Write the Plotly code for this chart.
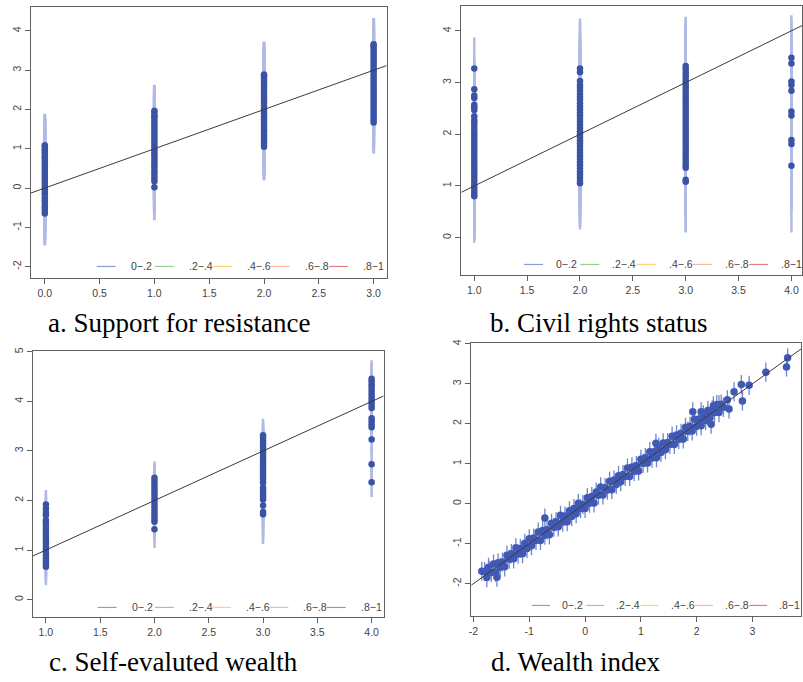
import plotly.graph_objects as go

# ---------------- data ----------------
# Panel a: Support for resistance
a_cats = [0, 1, 2, 3]
a_vals = [
    [-0.65, -0.58, -0.51, -0.45, -0.37, -0.31, -0.24, -0.16, -0.10, -0.03, 0.03, 0.10, 0.16, 0.23,
     0.29, 0.36, 0.42, 0.49, 0.55, 0.62, 0.68, 0.75, 0.81, 0.88, 0.93, 0.99, 1.05, 1.09],
    [0.02, 0.17, 0.24, 0.31, 0.38, 0.44, 0.52, 0.58, 0.65, 0.72, 0.79, 0.86, 0.92, 0.99, 1.06, 1.13,
     1.20, 1.27, 1.34, 1.41, 1.48, 1.55, 1.62, 1.69, 1.76, 1.82, 1.85, 1.93, 1.97],
    [1.05, 1.12, 1.19, 1.26, 1.33, 1.40, 1.47, 1.54, 1.61, 1.68, 1.75, 1.82, 1.89, 1.96, 2.03, 2.10,
     2.17, 2.24, 2.31, 2.38, 2.45, 2.52, 2.59, 2.66, 2.73, 2.80, 2.86, 2.89],
    [1.67, 1.74, 1.81, 1.88, 1.95, 2.02, 2.09, 2.16, 2.23, 2.30, 2.37, 2.44, 2.51, 2.58, 2.65, 2.72,
     2.79, 2.86, 2.93, 3.00, 3.07, 3.14, 3.21, 3.28, 3.35, 3.42, 3.49, 3.56, 3.62, 3.66],
]
a_err_up = [0.80, 0.66, 0.84, 0.67]
a_err_dn = [0.81, 0.84, 0.86, 0.79]

# Panel b: Civil rights status
b_cats = [1, 2, 3, 4]
b_vals = [
    [0.80, 0.85, 0.90, 0.96, 1.02, 1.08, 1.14, 1.20, 1.26, 1.32, 1.38, 1.44, 1.50, 1.56, 1.62, 1.68,
     1.74, 1.80, 1.86, 1.92, 1.98, 2.04, 2.10, 2.16, 2.22, 2.27, 2.35, 2.47, 2.52, 2.57, 2.70, 2.75,
     2.87, 3.27],
    [1.05, 1.10, 1.16, 1.22, 1.28, 1.34, 1.40, 1.46, 1.52, 1.58, 1.64, 1.70, 1.76, 1.82, 1.88, 1.94,
     2.00, 2.06, 2.12, 2.18, 2.24, 2.30, 2.36, 2.42, 2.48, 2.54, 2.60, 2.66, 2.72, 2.78, 2.84, 2.90,
     2.95, 3.03, 3.20, 3.27],
    [1.08, 1.12, 1.35, 1.40, 1.46, 1.52, 1.58, 1.64, 1.70, 1.76, 1.82, 1.88, 1.94, 2.00, 2.06, 2.12,
     2.18, 2.24, 2.30, 2.36, 2.42, 2.48, 2.54, 2.60, 2.66, 2.72, 2.78, 2.84, 2.90, 2.96, 3.02, 3.08,
     3.14, 3.20, 3.26, 3.32],
    [1.39, 1.81, 1.89, 2.36, 2.44, 2.84, 2.95, 3.02, 3.37, 3.48],
]
b_err_up = [0.60, 0.97, 0.95, 0.82]
b_err_dn = [0.90, 0.89, 0.98, 1.29]

# Panel c: Self-evaluted wealth
c_cats = [1, 2, 3, 4]
c_vals = [
    [0.66, 0.71, 0.77, 0.83, 0.89, 0.95, 1.01, 1.07, 1.13, 1.19, 1.25, 1.31, 1.37, 1.43, 1.49, 1.55,
     1.60, 1.70, 1.76, 1.84, 1.92],
    [1.42, 1.57, 1.62, 1.68, 1.74, 1.80, 1.86, 1.92, 1.98, 2.04, 2.10, 2.16, 2.22, 2.28, 2.34, 2.40,
     2.46],
    [1.72, 1.77, 1.90, 2.02, 2.08, 2.14, 2.20, 2.26, 2.36, 2.42, 2.48, 2.54, 2.60, 2.66, 2.72, 2.78,
     2.84, 2.90, 2.96, 3.02, 3.08, 3.14, 3.20, 3.26, 3.32],
    [2.37, 2.73, 3.23, 3.48, 3.54, 3.60, 3.66, 3.87, 3.93, 3.99, 4.05, 4.11, 4.17, 4.23, 4.29, 4.35,
     4.41, 4.46],
]
c_err_up = [0.29, 0.33, 0.33, 0.37]
c_err_dn = [0.37, 0.38, 0.60, 0.30]

# Panel d: Wealth index (continuous)
d_x = [
    -1.80, -1.72, -1.64, -1.56, -1.48, -1.40, -1.32, -1.24, -1.16, -1.08, -1.00, -0.92, -0.84, -0.76,
    -0.68, -0.60, -0.52, -0.44, -0.36, -0.28, -0.20, -0.12, -0.04, 0.04, 0.12, 0.20, 0.28, 0.36, 0.44,
    0.52, 0.60, 0.68, 0.76, 0.84, 0.92, 1.00, 1.08, 1.16, 1.24, 1.32, 1.40, 1.48, 1.56, 1.64, 1.72,
    1.80, 1.88, 1.96, 2.04, 2.12, 2.20, 2.28, 2.36, 2.44,
    -1.76, -1.68, -1.60, -1.52, -1.44, -1.36, -1.28, -1.20, -1.12, -1.04, -0.96, -0.88, -0.80, -0.72,
    -0.64, -0.56, -0.48, -0.40, -0.32, -0.24, -0.16, -0.08, 0.00, 0.08, 0.16, 0.24, 0.32, 0.40, 0.48,
    0.56, 0.64, 0.72, 0.80, 0.88, 0.96, 1.04, 1.12, 1.20, 1.28, 1.36, 1.44, 1.52, 1.60, 1.68, 1.76,
    1.84, 1.92, 2.00, 2.08, 2.16, 2.24, 2.32, 2.40, 2.48,
    3.63, 3.61, 3.24, 2.94, 2.80, 2.82, 2.67, 2.58, 2.40, 2.08, 1.93, 2.26, 1.27, -1.85, -1.73, -1.58,
    -0.72, 2.55, 2.30, 2.20,
]
d_y = [
    -1.70, -1.67, -1.51, -1.48, -1.46, -1.29, -1.25, -1.10, -1.12, -0.99, -0.88, -0.86, -0.71, -0.67,
    -0.65, -0.49, -0.45, -0.29, -0.31, -0.18, -0.12, 0.01, -0.02, 0.15, 0.18, 0.29, 0.42, 0.40, 0.56,
    0.59, 0.70, 0.73, 0.89, 0.92, 0.95, 1.11, 1.15, 1.30, 1.30, 1.41, 1.52, 1.53, 1.69, 1.72, 1.76,
    1.91, 1.94, 2.11, 2.12, 2.22, 2.33, 2.35, 2.48, 2.49,
    -1.85, -1.72, -1.72, -1.59, -1.58, -1.39, -1.38, -1.26, -1.25, -1.12, -1.05, -0.92, -0.92, -0.79,
    -0.78, -0.59, -0.58, -0.46, -0.45, -0.32, -0.25, -0.12, -0.12, 0.01, 0.02, 0.21, 0.22, 0.34, 0.35,
    0.48, 0.55, 0.68, 0.68, 0.81, 0.82, 1.01, 1.02, 1.14, 1.15, 1.28, 1.35, 1.48, 1.48, 1.61, 1.62,
    1.81, 1.82, 1.94, 1.95, 2.08, 2.15, 2.28, 2.28, 2.41,
    3.65, 3.42, 3.29, 2.96, 2.98, 2.57, 2.80, 2.37, 2.47, 2.30, 2.30, 1.99, 1.51, -1.69, -1.59, -1.84,
    -0.36, 2.60, 2.45, 2.20,
]
d_err = 0.24

# axis ranges and ticks
a_xrange, a_yrange = [-0.127, 3.118], [-2.3, 4.61]
b_xrange, b_yrange = [0.877, 4.10], [-0.73, 4.48]
c_xrange, c_yrange = [0.88, 4.11], [-0.36, 5.02]
d_xrange, d_yrange = [-2.04, 3.87], [-2.82, 4.02]

a_xticks = [0, 0.5, 1, 1.5, 2, 2.5, 3]
a_xlabels = ["0.0", "0.5", "1.0", "1.5", "2.0", "2.5", "3.0"]
a_yticks = [-2, -1, 0, 1, 2, 3, 4]
a_ylabels = ["-2", "-1", "0", "1", "2", "3", "4"]
bc_xticks = [1, 1.5, 2, 2.5, 3, 3.5, 4]
bc_xlabels = ["1.0", "1.5", "2.0", "2.5", "3.0", "3.5", "4.0"]
b_yticks = [0, 1, 2, 3, 4]
b_ylabels = ["0", "1", "2", "3", "4"]
c_yticks = [0, 1, 2, 3, 4, 5]
c_ylabels = ["0", "1", "2", "3", "4", "5"]
d_xticks = [-2, -1, 0, 1, 2, 3]
d_xlabels = ["-2", "-1", "0", "1", "2", "3"]
d_yticks = [-2, -1, 0, 1, 2, 3, 4]
d_ylabels = ["-2", "-1", "0", "1", "2", "3", "4"]

legend_labels = ["0\u2212.2", ".2\u2212.4", ".4\u2212.6", ".6\u2212.8", ".8\u22121"]
legend_colors = ["#8d9bd6", "#93d093", "#ffd17a", "#ffb4a4", "#e57a7a"]

captions = ["a. Support for resistance", "b. Civil rights status",
            "c. Self-evaluted wealth", "d. Wealth index"]

# ---------------- styling ----------------
PT = "#3b53a4"
ERR = "#b0bae3"
W, H = 803, 682

fig = go.Figure()

def add_columns(cats, vals, up, dn, xa, ya, thick):
    for cat, v, u, dd in zip(cats, vals, up, dn):
        fig.add_trace(go.Scatter(
            x=[cat] * len(v), y=v, mode="markers",
            marker=dict(size=6.5, color=PT, line=dict(width=0)),
            error_y=dict(type="constant", value=u, valueminus=dd, symmetric=False,
                         width=0, thickness=thick, color=ERR),
            xaxis=xa, yaxis=ya, showlegend=False, hoverinfo="skip"))

def add_diag(rng, xa, ya):
    fig.add_trace(go.Scatter(x=rng, y=rng, mode="lines",
                             line=dict(color="#3a3a3a", width=1),
                             xaxis=xa, yaxis=ya, showlegend=False, hoverinfo="skip"))

add_columns(a_cats, a_vals, a_err_up, a_err_dn, "x", "y", 3)
add_diag(a_xrange, "x", "y")

add_columns(b_cats, b_vals, b_err_up, b_err_dn, "x2", "y2", 2.5)
add_diag(b_xrange, "x2", "y2")

add_columns(c_cats, c_vals, c_err_up, c_err_dn, "x3", "y3", 2.5)
add_diag(c_xrange, "x3", "y3")

fig.add_trace(go.Scatter(
    x=d_x, y=d_y, mode="markers",
    marker=dict(size=7.5, color="#4059b4", line=dict(width=0)),
    error_y=dict(type="constant", value=d_err, width=0, thickness=1.3, color="#7085d0"),
    xaxis="x4", yaxis="y4", showlegend=False, hoverinfo="skip"))
add_diag(d_xrange, "x4", "y4")

TICKFONT = dict(family="'Liberation Sans', Arial, sans-serif", size=10.5, color="#444")

def xax(dom_px, rng, tv, tt, anchor):
    return dict(domain=[dom_px[0] / W, dom_px[1] / W], range=rng, tickvals=tv, ticktext=tt,
                showline=True, mirror=True, linecolor="#606060", linewidth=1,
                ticks="outside", ticklen=5, tickcolor="#606060", showgrid=False,
                zeroline=False, tickfont=TICKFONT, anchor=anchor, tickangle=0)

def yax(dom_px, rng, tv, tt, anchor):
    return dict(domain=[1 - dom_px[1] / H, 1 - dom_px[0] / H], range=rng, tickvals=tv,
                ticktext=tt, showline=True, mirror=True, linecolor="#606060", linewidth=1,
                ticks="outside", ticklen=5, tickcolor="#606060", showgrid=False,
                zeroline=False, tickfont=TICKFONT, anchor=anchor, tickangle=-90)

# ---- legends (one per panel, drawn inside the plot box, R style) ----
shapes, annotations = [], []
LEGFONT = dict(family="'Liberation Sans', Arial, sans-serif", size=10.5, color="#444")
# (first line start px, line length px, text offset px, item pitch px, y px)
legend_layouts = [(95, 19, 32, 58.3, 264), (524, 19, 30, 56.5, 262),
                  (96, 19, 32, 57.5, 607), (532, 18, 28, 54.5, 605)]
for (x0, ll, toff, pitch, ypx) in legend_layouts:
    for i, (lab, col) in enumerate(zip(legend_labels, legend_colors)):
        xs = x0 + i * pitch
        shapes.append(dict(type="line", xref="paper", yref="paper",
                           x0=xs / W, x1=(xs + ll) / W, y0=1 - ypx / H, y1=1 - ypx / H,
                           line=dict(color=col, width=1.2)))
        annotations.append(dict(text=lab, x=(xs + toff) / W, y=1 - ypx / H,
                                xref="paper", yref="paper", showarrow=False,
                                xanchor="left", yanchor="middle", font=LEGFONT))

CAPFONT = dict(family="'Liberation Serif', 'Times New Roman', serif", size=27, color="#000")
cap_pos = [(178, 321), (599, 321), (172, 662), (576, 662)]
for cap, (cx, cy) in zip(captions, cap_pos):
    annotations.append(dict(text=cap, x=cx / W, y=1 - cy / H, xref="paper", yref="paper",
                            showarrow=False, font=CAPFONT, xanchor="center", yanchor="middle"))

fig.update_layout(
    width=W, height=H, margin=dict(l=0, r=0, t=0, b=0),
    paper_bgcolor="white", plot_bgcolor="white", showlegend=False,
    xaxis=xax((29, 386), a_xrange, a_xticks, a_xlabels, "y"),
    yaxis=yax((3, 276), a_yrange, a_yticks, a_ylabels, "x"),
    xaxis2=xax((461, 803), b_xrange, bc_xticks, bc_xlabels, "y2"),
    yaxis2=yax((2, 273), b_yrange, b_yticks, b_ylabels, "x2"),
    xaxis3=xax((31, 383), c_xrange, bc_xticks, bc_xlabels, "y3"),
    yaxis3=yax((349, 617), c_yrange, c_yticks, c_ylabels, "x3"),
    xaxis4=xax((471, 802), d_xrange, d_xticks, d_xlabels, "y4"),
    yaxis4=yax((341, 616), d_yrange, d_yticks, d_ylabels, "x4"),
    shapes=shapes,
    annotations=annotations,
)

fig.write_html("out.html")
